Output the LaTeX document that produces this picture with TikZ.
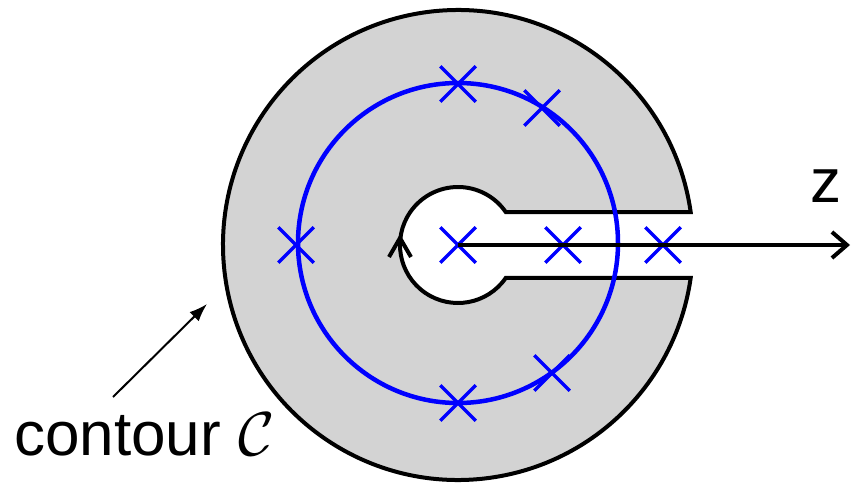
\documentclass[tikz,border=0pt]{standalone}
\usepackage{fix-cm}
\usepackage{fontspec}
\setmainfont{Liberation Sans}
\usetikzlibrary{arrows.meta,shapes.misc,calc}
\definecolor{ringgray}{RGB}{211,211,211}
\definecolor{poleblue}{RGB}{0,0,255}
\begin{document}
\begin{tikzpicture}[x=1pt,y=1pt,
  pole/.style={cross out,draw=poleblue,line width=3.5pt,minimum size=32pt,inner sep=0pt},
  outline/.style={draw=black,line width=4pt},
  lbl/.style={font=\fontsize{62}{70}\selectfont,inner sep=0pt}]
\useasboundingbox[fill=white] (0,0) rectangle (852,483);
\coordinate (O) at (458,238);
% keyhole-shaped gray region
\path[outline,fill=ringgray]
  ($(O)+(8.07:235)$) arc[start angle=8.07,end angle=351.93,radius=235]
  -- ($(O)+(-34.67:58)$) arc[start angle=-34.67,end angle=-325.33,radius=58]
  -- cycle;
% small direction chevron on the inner circle
\draw[line width=4pt] (389,226) -- (400,245) -- (411,226);
% blue circle
\draw[poleblue,line width=4.5pt] (458,240) circle[radius=160];
% poles
\node[pole] (c0) at (458,238) {};
\node[pole] (c1) at (563,238) {};
\node[pole] (c2) at (663,238) {};
\node[pole] (p1) at (458,399) {};
\node[pole] (p2) at (542,375) {};
\node[pole] (p3) at (296,238) {};
\node[pole] (p4) at (458,80) {};
\node[pole] (p5) at (552,110) {};
% real axis
\coordinate (zend) at (850,238);
\draw[line width=4pt,-{Straight Barb[length=15pt,width=26pt,line width=4pt]}] (c0.center) -- (zend);
\node[lbl,anchor=base] (zl) at (826,280) {z};
% contour label and pointer
\node[lbl,anchor=base west] (cl) at (14,28) {contour $\mathcal{C}$};
\coordinate (ptail) at (113,86);
\coordinate (phead) at (207,179);
\draw[line width=2pt,-{Latex[length=18pt,width=13pt]}] (ptail) -- (phead);
\end{tikzpicture}
\end{document}
